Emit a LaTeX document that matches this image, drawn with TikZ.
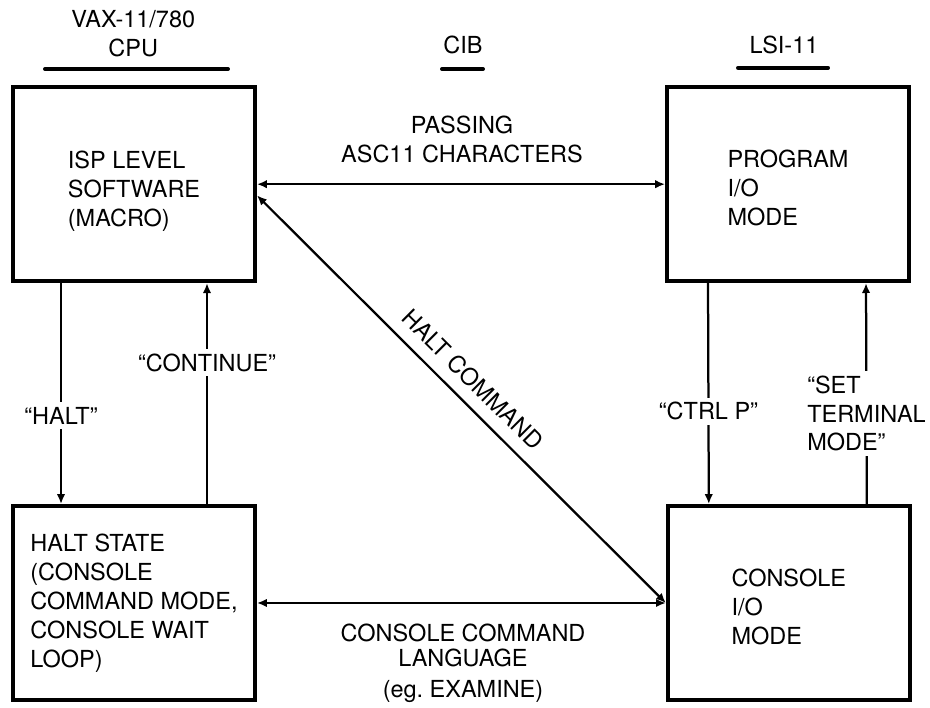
\documentclass[tikz,border=0pt]{standalone}
\usepackage{fontspec}
\setmainfont{TeX Gyre Heros}
\usetikzlibrary{arrows.meta}
\tikzset{
	statebox/.style={draw, line width=2.8pt, minimum width=6.05cm, minimum height=4.85cm, align=left},
	lbl/.style={fill=white},
	bar/.style={line width=2.8pt, line cap=round},
	link/.style={line width=1.6pt}
}
\begin{document}
\begin{tikzpicture}[font=\fontsize{16.7}{20.6}\selectfont, >={Latex[length=7pt,width=6pt]}]
		\useasboundingbox (0,0) rectangle (23.25,17.675);
		\node[align=center] (vax) at (3.33,16.84) {VAX-11/780\\CPU}; \draw[bar] (1.125,15.95) -- (5.7,15.95);
		\node (cib) at (11.575,16.55) {CIB}; \draw[bar] (11.05,15.95) -- (12.075,15.95);
		\node (lsi) at (19.6,16.55) {LSI-11}; \draw[bar] (18.45,15.98) -- (20.7,15.98);
		
		\node[statebox] (isp) at (3.35,13.07) {\rule{0pt}{23pt}ISP LEVEL\\SOFTWARE\\(MACRO)};
		\node[statebox] (prog) at (19.7,13.07) {\rule{0pt}{18pt}PROGRAM\\I/O\\MODE};
		\node[statebox] (halt) at (3.35,2.6) {HALT STATE\\(CONSOLE\\COMMAND MODE,\\CONSOLE WAIT\\LOOP)};
		\node[statebox] (cons) at (19.72,2.6) {\rule{0pt}{18pt}CONSOLE\\I/O\\MODE};
		
		\draw[link,<->] (isp.east) -- (prog.west);
		\node[align=center] (passlbl) at (11.55,14.18) {PASSING\\ASC11 CHARACTERS};
		\draw[link,<->] ([yshift=-.28cm]isp.east) -- node[sloped,above=.18cm,pos=.49] (haltcmd) {HALT COMMAND} (cons.west);
		\draw[link,<->] (halt.east) -- (cons.west);
		\node[align=center] (cmdlang) at (11.575,1.09) {CONSOLE COMMAND\\[-3pt]LANGUAGE\\[2pt](eg.\ EXAMINE)};
		
		\draw[link,->] ([xshift=-1.825cm]isp.south) -- node[lbl,pos=.6] (haltq) {“HALT”} ([xshift=-1.825cm]halt.north);
		\draw[link,->] ([xshift=1.825cm]halt.north) -- node[lbl,pos=.64] (contq) {“CONTINUE”} ([xshift=1.825cm]isp.south);
		\draw[link,->] ([xshift=-2cm]prog.south) -- node[lbl,pos=.58] (ctrlq) {“CTRL P”} ([xshift=-2cm]cons.north);
		\draw[link,->] ([xshift=1.95cm]cons.north) -- node[lbl,pos=.41,align=left] (setq) {“SET\\TERMINAL\\MODE”} ([xshift=1.95cm]prog.south);
\end{tikzpicture}
\end{document}
